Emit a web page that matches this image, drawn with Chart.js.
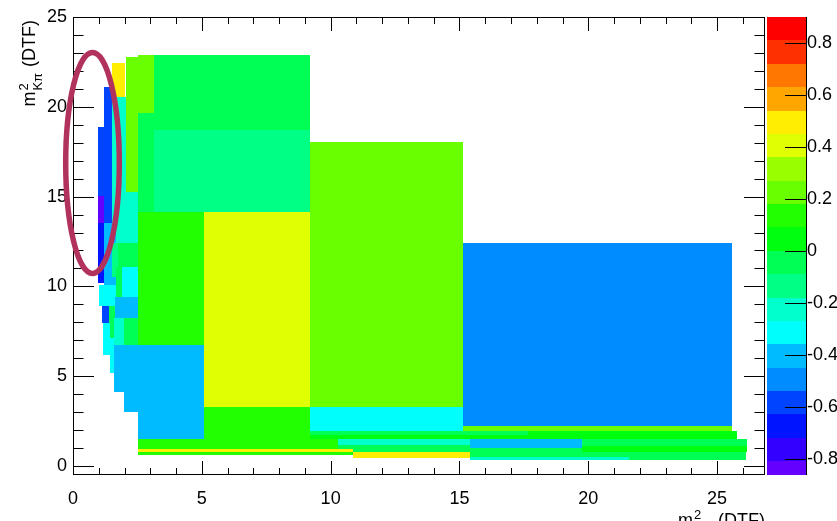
<!DOCTYPE html>
<html>
<head>
<meta charset="utf-8">
<script src="https://cdn.jsdelivr.net/npm/chart.js@4/dist/chart.umd.min.js"></script>
<style>
  html, body { margin: 0; padding: 0; background: #fff; }
  #wrap { width: 837px; height: 521px; }
</style>
</head>
<body>
<div id="wrap"><canvas id="c" width="837" height="521"></canvas></div>
<script>
// Adaptive-binning cells of the Dalitz plane: x edges, y edges and cell value z
const cellX0 = [2.05, 2.51, 3.16, 2.51, 3.16, 2.53, 5.10, 5.10, 2.53, 2.53, 2.53, 2.53, 10.88, 9.20, 9.20, 15.15, 15.15, 9.20, 9.20, 17.65, 10.30, 10.30, 10.88, 15.41, 15.41, 15.41, 19.75, 19.75, 19.75, 21.58,
                1.53, 1.22, 0.98, 0.98, 1.53, 2.05, 0.98, 1.22, 1.76, 1.53, 1.89, 1.66, 1.02, 1.64, 1.11, 1.41, 1.60, 1.99, 1.18, 1.44, 1.60, 1.99];
const cellX1 = [2.51, 3.16, 9.20, 3.16, 9.20, 5.10, 9.20, 9.20, 5.10, 10.30, 10.88, 10.88, 15.41, 15.15, 15.15, 25.57, 25.57, 17.65, 17.65, 25.76, 15.41, 15.41, 15.41, 19.75, 19.75, 21.58, 26.15, 26.15, 26.11, 26.11,
                2.02, 1.53, 1.22, 1.22, 2.05, 2.53, 1.22, 1.66, 2.53, 1.76, 2.53, 1.89, 1.66, 2.53, 1.41, 1.64, 1.99, 2.53, 1.44, 1.60, 2.53, 2.53];
const cellY0 = [15.27, 19.64, 18.71, 14.16, 14.16, 6.74, 3.30, 1.50, 1.50, 0.93, 0.80, 0.61, 0.43, 3.27, 1.97, 2.23, 1.97, 1.73, 1.50, 1.50, 1.17, 0.93, 0.80, 0.99, 0.52, 0.33, 1.11, 0.80, 0.52, 0.33,
                20.56, 13.51, 15.05, 13.51, 12.40, 12.40, 10.17, 10.08, 11.10, 10.54, 9.43, 9.43, 8.91, 8.22, 7.96, 7.11, 6.74, 6.74, 6.18, 5.16, 4.14, 3.02];
const cellY1 = [22.76, 22.88, 22.88, 19.64, 18.71, 14.16, 14.16, 3.30, 6.74, 1.50, 0.93, 0.80, 0.80, 18.06, 3.27, 12.43, 2.23, 1.97, 1.73, 1.97, 1.50, 1.17, 0.93, 1.50, 0.99, 0.52, 1.50, 1.11, 0.80, 0.52,
                22.42, 21.12, 18.89, 15.05, 20.56, 15.27, 13.51, 13.51, 12.40, 12.40, 11.10, 11.10, 10.10, 9.43, 8.91, 8.91, 8.22, 8.22, 7.96, 7.11, 6.74, 4.14];
const cellZ  = [0.21, 0.24, -0.04, -0.05, -0.13, 0.13, 0.41, 0.12, -0.40, 0.11, 0.47, 0.12, 0.50, 0.20, -0.30, -0.50, 0.19, -0.06, 0.03, 0.04, -0.22, -0.05, -0.05, -0.41, -0.07, -0.21, -0.04, 0.05, -0.06, -0.06,
                0.48, -0.58, -0.60, -0.84, -0.22, -0.25, -0.68, -0.42, -0.04, -0.12, -0.31, -0.05, -0.32, -0.40, -0.58, -0.03, -0.22, -0.03, -0.31, -0.33, -0.39, -0.41];

// Axis tick labels
const xTicks = [0, 5, 10, 15, 20, 25];
const yTicks = [0, 5, 10, 15, 20, 25];
const zTicks = [-0.8, -0.6, -0.4, -0.2, 0, 0.2, 0.4, 0.6, 0.8];

// Contour levels of the colour palette (20 levels)
const zLevelMin = -0.9;
const zLevelStep = 0.09;
const paletteColors = [
  '#6300FF', '#3300FF', '#0014FF', '#0044FF', '#008BFF',
  '#00BBFF', '#00FFFC', '#00FFCC', '#00FF85', '#00FF55',
  '#00FF0E', '#22FF00', '#69FF00', '#99FF00', '#E0FF00',
  '#FFEE00', '#FFA700', '#FF7700', '#FF3000', '#FF0000'
];

// Highlighted region (data coordinates)
const ring = { cx: 0.757, cy: 16.87, rx: 1.04, ry: 6.15 };

const FONT_FAMILY = "'Liberation Sans', Arial, Helvetica, sans-serif";
const tickFont = { family: FONT_FAMILY, size: 18 };

function colorFor(v) {
  let j = Math.floor((v - zLevelMin) / zLevelStep);
  j = Math.max(0, Math.min(paletteColors.length - 1, j));
  return paletteColors[j];
}

function fmt(v) {
  if (Math.abs(v) < 1e-9) return '0';
  return String(Math.round(v * 10) / 10);
}

// Cells drawn as filled boxes through the x/y scales
const cellsPlugin = {
  id: 'cells',
  beforeDatasetsDraw(chart) {
    const { ctx, chartArea, scales: { x, y } } = chart;
    ctx.save();
    ctx.beginPath();
    ctx.rect(chartArea.left, chartArea.top, chartArea.right - chartArea.left, chartArea.bottom - chartArea.top);
    ctx.clip();
    for (let i = 0; i < cellZ.length; i++) {
      const l = Math.round(x.getPixelForValue(cellX0[i]));
      const r = Math.round(x.getPixelForValue(cellX1[i]));
      const t = Math.round(y.getPixelForValue(cellY1[i]));
      const b = Math.round(y.getPixelForValue(cellY0[i]));
      ctx.fillStyle = colorFor(cellZ[i]);
      ctx.fillRect(l, t, r - l, b - t);
    }
    ctx.restore();
  }
};

// Draws "m" with a superscript 2 and a subscript, followed by " (DTF)"
function massTitle(ctx, sub) {
  const big = '18px ' + FONT_FAMILY;
  const small = '13px ' + FONT_FAMILY;
  ctx.font = big;
  const wm = ctx.measureText('m').width;
  ctx.font = small;
  const ws = Math.max(ctx.measureText('2').width, ctx.measureText(sub).width);
  ctx.font = big;
  const wt = ctx.measureText(' (DTF)').width;
  return {
    width: wm + ws + 2 + wt,
    draw(x0, y0) {
      ctx.textBaseline = 'alphabetic';
      ctx.textAlign = 'left';
      ctx.font = big;
      ctx.fillText('m', x0, y0);
      ctx.font = small;
      ctx.fillText('2', x0 + wm + 1, y0 - 7);
      ctx.fillText(sub, x0 + wm + 1, y0 + 7);
      ctx.font = big;
      ctx.fillText(' (DTF)', x0 + wm + ws + 2, y0);
    }
  };
}

// Frame, inward ticks on all four sides, palette, axis titles and the highlight ring
const framePlugin = {
  id: 'frame',
  afterDraw(chart) {
    const { ctx, chartArea: a, scales: { x, y, z } } = chart;
    ctx.save();
    ctx.strokeStyle = '#000';
    ctx.fillStyle = '#000';
    ctx.lineWidth = 1;

    // x ticks (bottom and top)
    ctx.beginPath();
    for (let v = 0; v <= Math.floor(x.max); v++) {
      const px = Math.round(x.getPixelForValue(v)) + 0.5;
      const len = (v % 5 === 0) ? 14 : 7;
      ctx.moveTo(px, a.bottom); ctx.lineTo(px, a.bottom - len);
      ctx.moveTo(px, a.top); ctx.lineTo(px, a.top + len);
    }
    // y ticks (left and right)
    for (let v = 0; v <= Math.floor(y.max); v++) {
      const py = Math.round(y.getPixelForValue(v)) + 0.5;
      const len = (v % 5 === 0) ? 21 : 10.5;
      ctx.moveTo(a.left, py); ctx.lineTo(a.left + len, py);
      ctx.moveTo(a.right, py); ctx.lineTo(a.right - len, py);
    }
    ctx.stroke();

    // frame
    ctx.strokeRect(a.left + 0.5, a.top + 0.5, a.right - a.left - 1, a.bottom - a.top - 1);

    // colour palette
    const pl = a.right + 2, pr = a.right + 41;
    for (let j = 0; j < paletteColors.length; j++) {
      let lo = zLevelMin + j * zLevelStep, hi = lo + zLevelStep;
      lo = Math.max(lo, z.min); hi = Math.min(hi, z.max);
      if (hi <= lo) continue;
      const t = Math.round(z.getPixelForValue(hi));
      const b = Math.round(z.getPixelForValue(lo));
      ctx.fillStyle = paletteColors[j];
      ctx.fillRect(pl, t, pr - pl, b - t);
    }
    ctx.beginPath();
    ctx.moveTo(pr + 0.5, a.top); ctx.lineTo(pr + 0.5, a.bottom);
    zTicks.forEach(v => {
      const py = Math.round(z.getPixelForValue(v)) + 0.5;
      ctx.moveTo(pr, py); ctx.lineTo(pr - 21, py);
    });
    ctx.strokeStyle = '#000';
    ctx.stroke();

    // axis titles
    ctx.fillStyle = '#000';
    const yt = massTitle(ctx, 'K\u03C0');
    ctx.save();
    ctx.translate(35, a.top + 3 + yt.width);
    ctx.rotate(-Math.PI / 2);
    yt.draw(0, 0);
    ctx.restore();

    const xt = massTitle(ctx, '\u03C0\u03C0');
    xt.draw(a.right - xt.width, 526);

    // highlight ring
    const cx = x.getPixelForValue(ring.cx), cy = y.getPixelForValue(ring.cy);
    const rx = x.getPixelForValue(ring.cx + ring.rx) - cx;
    const ry = cy - y.getPixelForValue(ring.cy + ring.ry);
    ctx.beginPath();
    ctx.ellipse(cx, cy, rx, ry, 0, 0, Math.PI * 2);
    ctx.strokeStyle = '#B2325E';
    ctx.lineWidth = 5.5;
    ctx.stroke();
    ctx.restore();
  }
};

// Axis grids are not drawn; the invisible tick length only offsets the labels
function offsetGrid(len) {
  return { display: true, drawOnChartArea: false, drawTicks: true, tickLength: len, tickColor: 'rgba(0,0,0,0)' };
}

new Chart(document.getElementById('c'), {
  type: 'scatter',
  data: { datasets: [] },
  options: {
    responsive: false,
    animation: false,
    devicePixelRatio: 1,
    layout: { padding: { top: 17, left: 0, right: 0, bottom: 0 } },
    plugins: { legend: { display: false }, tooltip: { enabled: false }, title: { display: false } },
    scales: {
      x: {
        type: 'linear', position: 'bottom', min: 0, max: 26.86,
        grid: offsetGrid(13), border: { display: false },
        ticks: { font: tickFont, color: '#000', padding: 0, autoSkip: false, maxRotation: 0, callback: fmt },
        afterBuildTicks: s => { s.ticks = xTicks.map(v => ({ value: v })); },
        afterFit: s => { s.height = 46; }
      },
      y: {
        type: 'linear', position: 'left', min: -0.5, max: 25,
        grid: offsetGrid(6), border: { display: false },
        ticks: { font: tickFont, color: '#000', padding: 0, autoSkip: false, callback: fmt },
        afterBuildTicks: s => { s.ticks = yTicks.map(v => ({ value: v })); },
        afterFit: s => { s.width = 73; }
      },
      z: {
        axis: 'y', type: 'linear', position: 'right', min: -0.863, max: 0.9,
        grid: offsetGrid(42), border: { display: false },
        ticks: { font: tickFont, color: '#000', padding: 0, autoSkip: false, callback: fmt },
        afterBuildTicks: s => { s.ticks = zTicks.map(v => ({ value: v })); },
        afterFit: s => { s.width = 72; }
      }
    }
  },
  plugins: [cellsPlugin, framePlugin]
});
</script>
</body>
</html>
